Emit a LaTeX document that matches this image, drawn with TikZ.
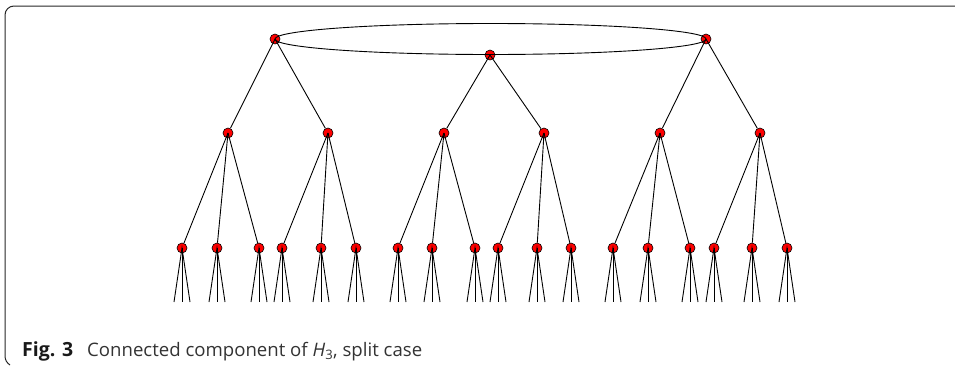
\documentclass[tikz,border=0pt]{standalone}
\usepackage{fontspec}
\setmainfont{Open Sans}
\usetikzlibrary{calc}
\begin{document}
\begin{tikzpicture}[x=1pt,y=-1pt,
  vtx/.style={circle,draw=black,fill=red,minimum size=10pt,inner sep=0pt,line width=0.6pt},
  edge/.style={line width=0.9pt,black},
  frame/.style={line width=1pt,black!85}]
\useasboundingbox (0,0) rectangle (955,367);
% frame
\draw[frame] (955,6) -- (14,6) .. controls (9,6) and (5,10) .. (5,15) -- (5,356) .. controls (5,360) and (7,363) .. (10,365);
% top level
\node[vtx] (a) at (275,39) {};
\node[vtx] (b) at (490,55) {};
\node[vtx] (c) at (706,39) {};
\draw[edge] ($(a)!0.5!(c)$) ellipse[x radius=215.5,y radius=15.5];
% level 2
\foreach \n/\x/\p in {1/228/a,2/328/a,3/444/b,4/544/b,5/660/c,6/760/c}{
  \node[vtx] (m\n) at (\x,133) {};
  \draw[edge] (\p.center) -- (m\n);
}
% level 3
\foreach \n/\x/\p in {1/182/m1,2/217/m1,3/259/m1,4/282/m2,5/321/m2,6/356/m2,
  7/398/m3,8/432/m3,9/475/m3,10/498/m4,11/537/m4,12/571/m4,
  13/613/m5,14/648/m5,15/690/m5,16/714/m6,17/752/m6,18/787/m6}{
  \node[vtx] (l\n) at (\x,248) {};
  \draw[edge] (\p.center) -- (l\n);
  \coordinate (e\n a) at (\x-8,302);
  \coordinate (e\n b) at (\x,302);
  \coordinate (e\n c) at (\x+8,302);
  \draw[edge] (e\n a) -- (l\n.center) -- (e\n c);
  \draw[edge] (l\n.center) -- (e\n b);
}
% caption
\node[anchor=base west,inner sep=0pt,font=\fontsize{19.5}{22}\selectfont\bfseries,text=black!90] (fig) at (22,356) {Fig. 3};
\node[anchor=base west,inner sep=0pt,font=\fontsize{18.6}{21}\selectfont,text=black!80] (cap) at (87,356) {Connected component of \textit{H}\textsubscript{3}, split case};
\end{tikzpicture}
\end{document}
